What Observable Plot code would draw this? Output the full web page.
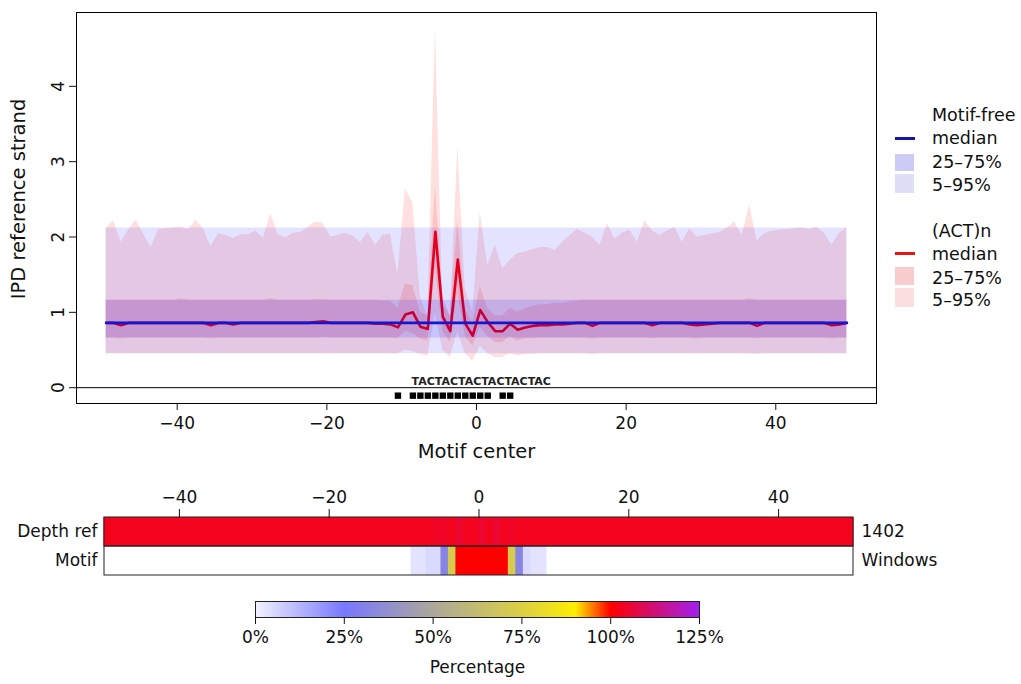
<!DOCTYPE html>
<html><head><meta charset="utf-8">
<script src="https://cdn.jsdelivr.net/npm/d3@7"></script>
<script src="https://cdn.jsdelivr.net/npm/@observablehq/plot@0.6"></script>
<style>
body{margin:0;background:#fff;font-family:"DejaVu Sans",sans-serif;}
#root{position:relative;width:1021px;height:684px;overflow:hidden;background:#fff;}
.pane{position:absolute;left:0;}
.lt{position:absolute;font-size:17.5px;line-height:20px;white-space:nowrap;color:#111;}
.sw{position:absolute;}
</style></head><body><div id="root"></div>
<script>
// ---------- data ----------
const positions = d3.range(-49.5, 50, 1); // window positions relative to motif center
const xTicks = [-40, -20, 0, 20, 40];
const yTicks = [0, 1, 2, 3, 4];
// Motif-free windows (flat quantiles)
const blueQ5 = 0.45, blueQ25 = 0.66, blueMedian = 0.86, blueQ75 = 1.16, blueQ95 = 2.12;
// (ACT)n windows
const redMedian = [
 0.86,0.86,0.83,0.86,0.86,0.86,0.86,0.86,0.86,0.86,
 0.86,0.86,0.86,0.86,0.83,0.86,0.86,0.84,0.86,0.86,
 0.86,0.86,0.86,0.86,0.86,0.86,0.86,0.86,0.87,0.88,
 0.86,0.86,0.86,0.86,0.86,0.86,0.85,0.85,0.84,0.80,
 0.97,1.00,0.81,0.78,2.07,0.94,0.75,1.70,0.85,0.69,
 1.03,0.87,0.75,0.75,0.85,0.77,0.80,0.82,0.83,0.83,
 0.84,0.84,0.85,0.86,0.86,0.82,0.86,0.86,0.86,0.86,
 0.86,0.86,0.86,0.83,0.86,0.86,0.86,0.86,0.84,0.83,
 0.84,0.85,0.86,0.86,0.86,0.86,0.86,0.82,0.86,0.86,
 0.86,0.86,0.86,0.86,0.86,0.86,0.86,0.83,0.84,0.86];
const red5 = [
 0.45,0.45,0.45,0.45,0.45,0.45,0.45,0.45,0.45,0.45,
 0.45,0.45,0.45,0.45,0.45,0.45,0.45,0.45,0.45,0.45,
 0.45,0.45,0.45,0.45,0.45,0.45,0.45,0.45,0.45,0.45,
 0.45,0.45,0.45,0.45,0.45,0.45,0.45,0.45,0.45,0.45,
 0.50,0.48,0.44,0.42,0.98,0.50,0.40,0.75,0.45,0.35,
 0.55,0.45,0.40,0.40,0.45,0.42,0.44,0.44,0.45,0.45,
 0.45,0.45,0.45,0.45,0.45,0.44,0.45,0.45,0.45,0.45,
 0.45,0.45,0.45,0.45,0.45,0.45,0.45,0.45,0.45,0.45,
 0.45,0.45,0.45,0.45,0.45,0.45,0.45,0.44,0.45,0.45,
 0.45,0.45,0.45,0.45,0.45,0.45,0.45,0.45,0.45,0.45];
const red25 = [
 0.66,0.66,0.65,0.66,0.66,0.66,0.66,0.66,0.66,0.66,
 0.66,0.66,0.66,0.66,0.65,0.66,0.66,0.66,0.66,0.66,
 0.66,0.66,0.66,0.66,0.66,0.66,0.66,0.66,0.66,0.67,
 0.66,0.66,0.66,0.66,0.66,0.66,0.66,0.66,0.66,0.65,
 0.75,0.72,0.65,0.62,1.60,0.75,0.60,1.25,0.68,0.55,
 0.80,0.68,0.60,0.60,0.68,0.62,0.65,0.65,0.66,0.66,
 0.66,0.66,0.66,0.66,0.66,0.65,0.66,0.66,0.66,0.66,
 0.66,0.66,0.66,0.65,0.66,0.66,0.66,0.66,0.66,0.65,
 0.66,0.66,0.66,0.66,0.66,0.66,0.66,0.65,0.66,0.66,
 0.66,0.66,0.66,0.66,0.66,0.66,0.66,0.65,0.66,0.66];
const red75 = [
 1.16,1.16,1.16,1.16,1.16,1.16,1.16,1.16,1.16,1.16,
 1.18,1.16,1.16,1.16,1.16,1.16,1.16,1.16,1.16,1.16,
 1.16,1.16,1.18,1.16,1.16,1.16,1.16,1.16,1.17,1.17,
 1.16,1.16,1.16,1.16,1.16,1.16,1.16,1.15,1.15,1.05,
 1.38,1.35,1.00,0.95,2.66,1.20,0.95,2.22,1.05,0.85,
 1.35,1.05,0.95,0.95,1.05,1.00,1.05,1.08,1.10,1.10,
 1.12,1.12,1.14,1.15,1.16,1.16,1.16,1.16,1.16,1.16,
 1.16,1.16,1.16,1.16,1.16,1.16,1.16,1.16,1.16,1.16,
 1.16,1.16,1.16,1.16,1.16,1.16,1.18,1.16,1.16,1.16,
 1.16,1.16,1.16,1.16,1.16,1.16,1.16,1.16,1.16,1.16];
const red95 = [
 2.11,2.22,1.93,2.09,2.23,2.04,1.86,2.10,2.11,2.12,
 2.13,2.10,2.22,2.11,1.87,2.04,2.02,1.98,2.03,2.03,
 2.08,1.98,2.31,2.03,1.99,2.05,2.06,2.13,2.20,2.18,
 2.00,2.02,2.05,2.01,1.93,2.06,1.89,2.02,2.04,1.50,
 2.64,2.45,1.20,0.95,4.77,1.10,0.95,3.19,1.30,1.00,
 2.33,1.62,1.89,1.58,1.69,1.78,1.80,1.83,1.86,1.86,
 1.82,1.93,2.02,2.10,2.05,2.00,1.89,2.18,1.97,2.05,
 2.09,1.93,2.22,2.08,2.02,2.08,2.13,1.93,2.11,2.00,
 2.02,2.04,2.06,2.12,2.20,2.02,2.42,1.95,2.04,2.08,
 2.09,2.10,2.11,2.12,2.10,2.13,2.05,1.89,2.05,2.12];
// motif annotation
const motifSeq = "TACTACTACTACTACTAC";
const motifLabel = [{text: motifSeq, x: 0.63, y: 0.08}];
const motifSites = [-10.5, -8.5, -7.5, -6.5, -5.5, -4.5, -3.5, -2.5, -1.5, -0.5, 0.5, 1.5, 3.5, 4.5];
const motifSiteY = -0.106;
// heatmap rows
const rows = ["Depth ref", "Motif"];
const rowRight = ["1402", "Windows"];
const depthPct = [
 103,103,103,103,103,103,103,103,103,103,
 103,103,103,103,103,103,103,103,103,103,
 103,103,103,103,103,103,103,103,103,103,
 103,103,103,103,103,103,103,103,103,103,
 103,103,103,103,104,104,103,105,103,103,
 105,103,105,103,104,103,103,103,103,103,
 103,103,103,103,103,103,103,103,103,103,
 103,103,103,103,103,103,103,103,103,103,
 103,103,103,103,103,103,103,103,103,103,
 103,103,103,103,103,103,103,103,103,103];
const motifPct = [
 0,0,0,0,0,0,0,0,0,0,
 0,0,0,0,0,0,0,0,0,0,
 0,0,0,0,0,0,0,0,0,0,
 0,0,0,0,0,0,0,0,0,0,
 0,3,3,5,5,32,72,100,100,100,
 100,100,100,100,72,32,5,3,3,0,
 0,0,0,0,0,0,0,0,0,0,
 0,0,0,0,0,0,0,0,0,0,
 0,0,0,0,0,0,0,0,0,0,
 0,0,0,0,0,0,0,0,0,0];
// colour key
const pctStops  = [0, 25, 50, 75, 90, 100, 125];
const pctColors = ["#F2F2FF", "#7878FF", "#ACA89C", "#DCCF44", "#FFEE00", "#FF0000", "#A020F0"];
const pctTicks = [0, 25, 50, 75, 100, 125];

// ---------- build ----------
const FONT = "'DejaVu Sans', sans-serif";
const root = document.getElementById("root");
function pane(node, top) { const d = document.createElement("div"); d.className = "pane"; d.style.top = top + "px"; d.appendChild(node); root.appendChild(d); }
const baseStyle = {fontFamily: FONT, fontSize: "17px", color: "#111", background: "transparent", overflow: "visible"};

const table = positions.map((x, i) => ({x, med: redMedian[i], q5: red5[i], q25: red25[i], q75: red75[i], q95: red95[i]}));
const blueSpan = [positions[0], positions[positions.length - 1]];

const topPlot = Plot.plot({
  width: 1021, height: 470,
  marginLeft: 76, marginRight: 145, marginTop: 12, marginBottom: 67,
  style: baseStyle,
  x: {domain: [-53.46, 53.46]},
  y: {domain: [-0.21, 4.98]},
  marks: [
    Plot.areaY(table, {x: "x", y1: "q5", y2: "q95", fill: "#ff0000", fillOpacity: 0.12}),
    Plot.areaY(table, {x: "x", y1: "q25", y2: "q75", fill: "#ff0000", fillOpacity: 0.13}),
    Plot.lineY(table, {x: "x", y: "med", stroke: "#ff0000", strokeWidth: 2.6}),
    Plot.areaY(blueSpan, {x: d => d, y1: blueQ5, y2: blueQ95, fill: "#0000ff", fillOpacity: 0.11}),
    Plot.areaY(blueSpan, {x: d => d, y1: blueQ25, y2: blueQ75, fill: "#0000ff", fillOpacity: 0.13}),
    Plot.lineY(blueSpan, {x: d => d, y: blueMedian, stroke: "#1515d0", strokeWidth: 2.6}),
    Plot.ruleY([0], {stroke: "#000", strokeWidth: 1}),
    Plot.text(motifLabel, {x: "x", y: "y", text: "text", fontSize: 11, fontWeight: "bold", fill: "#222"}),
    Plot.dot(motifSites, {x: d => d, y: motifSiteY, symbol: "square", r: 3.6, fill: "#000", stroke: "none"}),
    Plot.frame({stroke: "#000"}),
    Plot.axisX({ticks: xTicks, tickSize: 7, tickPadding: 6, label: null}),
    Plot.axisY({ticks: yTicks, tickSize: 7, tickPadding: 6, tickRotate: -90, tickFormat: d => String(d), label: null}),
    Plot.text(["Motif center"], {frameAnchor: "bottom", dy: 54, fontSize: 19.5}),
    Plot.text(["IPD reference strand"], {frameAnchor: "left", textAnchor: "middle", dx: -58, dy: -9, rotate: -90, fontSize: 19.5})
  ]
});
pane(topPlot, 0);

const heat = [];
positions.forEach((x, i) => {
  heat.push({x, row: rows[0], v: depthPct[i]});
  if (motifPct[i] > 0) heat.push({x, row: rows[1], v: motifPct[i]});
});
const colorOpts = {type: "linear", domain: pctStops, range: pctColors, interpolate: "rgb"};

const heatPlot = Plot.plot({
  width: 1021, height: 110,
  marginLeft: 104, marginRight: 168, marginTop: 47, marginBottom: 5,
  style: baseStyle,
  x: {domain: [-50, 50]},
  y: {domain: rows, padding: 0},
  color: colorOpts,
  marks: [
    Plot.rect(heat, {x1: d => d.x - 0.5, x2: d => d.x + 0.5, y: "row", fill: "v", insetLeft: -0.6, insetRight: -0.6}),
    Plot.barX(rows, {x1: -50, x2: 50, y: d => d, fill: "none", stroke: "#222", strokeWidth: 1}),
    Plot.axisX({anchor: "top", ticks: xTicks, tickSize: 9, tickPadding: 6, label: null}),
    Plot.axisY({anchor: "left", tickSize: 0, tickPadding: 7, label: null}),
    Plot.axisY({anchor: "right", tickSize: 0, tickPadding: 8, label: null, tickFormat: d => rowRight[rows.indexOf(d)]})
  ]
});
pane(heatPlot, 470);

const keyPlot = Plot.plot({
  width: 1021, height: 104,
  marginLeft: 255, marginRight: 322, marginTop: 21, marginBottom: 67,
  style: baseStyle,
  x: {domain: [0, 125]},
  y: {domain: [0, 1], axis: null},
  color: colorOpts,
  marks: [
    Plot.raster({x1: 0, x2: 125, y1: 0, y2: 1, fill: (x, y) => x, width: 444, height: 2}),
    Plot.frame({stroke: "#222"}),
    Plot.axisX({ticks: pctTicks, tickSize: 7, tickPadding: 6, tickFormat: d => d + "%", label: null}),
    Plot.text(["Percentage"], {frameAnchor: "bottom", dy: 55, fontSize: 17})
  ]
});
pane(keyPlot, 580);

// ---------- legend ----------
function txt(s, left, cy) { const d = document.createElement("div"); d.className = "lt"; d.textContent = s; d.style.left = left + "px"; d.style.top = (cy - 10) + "px"; root.appendChild(d); }
function sw(left, top, w, h, bg) { const d = document.createElement("div"); d.className = "sw"; Object.assign(d.style, {left: left + "px", top: top + "px", width: w + "px", height: h + "px", background: bg}); root.appendChild(d); }
txt("Motif-free", 932, 115);
sw(895, 137, 20, 2.6, "#1515a8");
txt("median", 932, 138);
sw(895, 154, 19, 17, "#CBCBF6");
txt("25\u201375%", 932, 162);
sw(895, 174, 19, 19, "#DEDEF9");
txt("5\u201395%", 932, 185);
txt("(ACT)n", 932, 231);
sw(895, 252, 20, 2.6, "#ee1111");
txt("median", 932, 254);
sw(895, 267, 19, 18, "#F9CDCD");
txt("25\u201375%", 932, 278);
sw(895, 288, 19, 19, "#FBDEDE");
txt("5\u201395%", 932, 300);
</script></body></html>
